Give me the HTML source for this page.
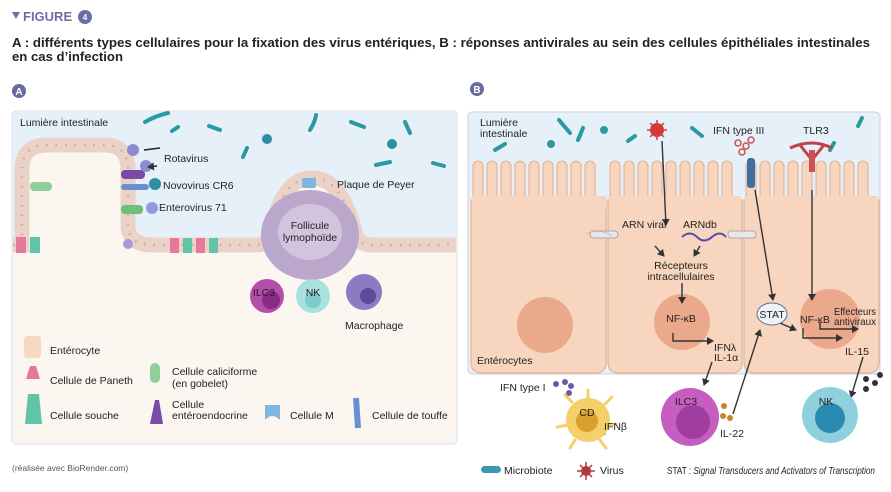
<!DOCTYPE html>
<html><head><meta charset="utf-8"><style>
html,body{margin:0;padding:0;background:#fff;}
svg{display:block;font-family:"Liberation Sans",Arial,sans-serif;}
.t{font-size:10.5px;fill:#222;}
</style></head><body>
<svg width="891" height="492" viewBox="0 0 891 492" xmlns="http://www.w3.org/2000/svg">
<defs>
<marker id="ar" markerWidth="8" markerHeight="8" refX="6" refY="4" orient="auto" markerUnits="userSpaceOnUse"><path d="M0,0 L7,4 L0,8 z" fill="#333"/></marker>
</defs>
<!-- header -->
<path d="M12,12 L20,12 L16,19 z" fill="#6b6fa6"/>
<text x="23" y="21" font-size="13" font-weight="bold" fill="#6b6fa6">FIGURE</text>
<circle cx="85" cy="17" r="7" fill="#6b6fa6"/><text x="85" y="20" font-size="8" fill="#fff" text-anchor="middle" font-weight="bold">4</text>
<text x="12" y="47" font-size="13" font-weight="bold" fill="#222" textLength="858" lengthAdjust="spacingAndGlyphs">A : différents types cellulaires pour la fixation des virus entériques, B : réponses antivirales au sein des cellules épithéliales intestinales</text>
<text x="12" y="61" font-size="13" font-weight="bold" fill="#222" textLength="111" lengthAdjust="spacingAndGlyphs">en cas d’infection</text>

<!-- Panel A -->
<circle cx="19" cy="91" r="7" fill="#6b6aa0"/><text x="19" y="95" font-size="10" fill="#fff" text-anchor="middle" font-weight="bold">A</text>
<rect x="12" y="111" width="445" height="333" rx="4" fill="#fcf6f1" stroke="#d8dde8"/>
<path d="M13,112 H456 V250 H13 z" fill="#e6f0f9"/>
<path d="M13,250 H22 V170 Q22,145 47,145 H105 Q128,145 128,170 V225 Q128,250 153,250 H255 Q268,250 271,235 Q282,178 312,178 Q342,178 355,235 Q358,250 372,250 H456 V443 H13 z" fill="#fcf6f1"/>
<path d="M13,245 H22 V170 Q22,145 47,145 H105 Q128,145 128,170 V225 Q128,245 153,245 H255 Q268,245 271,232 Q282,178 312,178 Q342,178 355,232 Q358,245 372,245 H456" fill="none" stroke="#ead3c6" stroke-width="15"/>
<path d="M13,245 H22 V170 Q22,145 47,145 H105 Q128,145 128,170 V225 Q128,245 153,245 H255 Q268,245 271,232 Q282,178 312,178 Q342,178 355,232 Q358,245 372,245 H456" fill="none" stroke="#c9a7a5" stroke-width="2.5" stroke-dasharray="1.5 8"/>
<rect x="16" y="237" width="10" height="16" fill="#e8789a"/><rect x="30" y="237" width="10" height="16" fill="#5fc4a8"/>
<rect x="170" y="238" width="9" height="15" fill="#e8789a"/><rect x="183" y="238" width="9" height="15" fill="#5fc4a8"/><rect x="196" y="238" width="9" height="15" fill="#e8789a"/><rect x="209" y="238" width="9" height="15" fill="#5fc4a8"/>
<rect x="30" y="182" width="22" height="9" rx="4" fill="#8fd09a"/>
<rect x="121" y="205" width="22" height="9" rx="4" fill="#6cc07a"/>
<rect x="121" y="170" width="24" height="9" rx="4" fill="#7a4aa8"/>
<rect x="121" y="184" width="28" height="6" rx="3" fill="#6a8fd0"/>
<rect x="302" y="178" width="14" height="10" rx="2" fill="#7fb5e0"/>
<circle cx="133" cy="150" r="6" fill="#8f8ad0"/><circle cx="146" cy="166" r="6" fill="#8f8ad0"/>
<circle cx="155" cy="184" r="6" fill="#2a8fa0"/><circle cx="152" cy="208" r="6" fill="#8f9ae0"/>
<circle cx="128" cy="244" r="5" fill="#a89ad8"/>
<path d="M160,148 L144,150 M157,166 L148,167" stroke="#222" stroke-width="1.5" marker-end="url(#ar)"/>
<g stroke="#2a9aa0" stroke-width="4" stroke-linecap="round" fill="none">
<path d="M145,122 Q155,116 168,113"/><path d="M172,131 L178,127"/><path d="M209,126 L220,130"/><path d="M243,157 L247,148"/><path d="M310,130 Q315,122 316,115"/><path d="M351,122 L364,127"/><path d="M405,122 L410,133"/><path d="M376,165 L390,162"/><path d="M433,163 L444,166"/>
</g>
<circle cx="267" cy="139" r="5" fill="#2a8fa0"/><circle cx="392" cy="144" r="5" fill="#2a8fa0"/>
<ellipse cx="310" cy="235" rx="49" ry="45" fill="#bba6cc"/><ellipse cx="310" cy="232" rx="32" ry="28" fill="#d2c3de"/>
<circle cx="267" cy="296" r="17" fill="#b24fa8"/><circle cx="271" cy="300" r="9" fill="#8a2a86"/>
<circle cx="313" cy="296" r="17" fill="#a9e0e0"/><circle cx="313" cy="300" r="8" fill="#7fcaca"/>
<circle cx="364" cy="292" r="18" fill="#8a7cc2"/><circle cx="368" cy="296" r="8" fill="#5d4a9a"/>
<text class="t" x="20" y="126">Lumière intestinale</text>
<text class="t" x="164" y="162">Rotavirus</text>
<text class="t" x="163" y="189">Novovirus CR6</text>
<text class="t" x="159" y="211">Enterovirus 71</text>
<text class="t" x="337" y="188">Plaque de Peyer</text>
<text class="t" x="310" y="229" text-anchor="middle">Follicule</text>
<text class="t" x="310" y="241" text-anchor="middle">lymophoïde</text>
<text class="t" x="264" y="296" text-anchor="middle">ILC3</text>
<text class="t" x="313" y="296" text-anchor="middle">NK</text>
<text class="t" x="345" y="329">Macrophage</text>
<rect x="24" y="336" width="17" height="22" rx="3" fill="#f7d9c0"/>
<path d="M26,379 L30,366 L36,366 L40,379 z" fill="#e8789a"/>
<path d="M25,424 L28,394 L39,394 L42,424 z" fill="#5fc4a8"/>
<rect x="150" y="363" width="10" height="20" rx="5" fill="#8fd09a"/>
<path d="M150,424 L155,400 L159,400 L163,424 z" fill="#7a4aa8"/>
<path d="M265,405 H280 V420 Q272,412 265,420 z" fill="#7fb5e0"/>
<path d="M356,398 L358,428" stroke="#6a8fd0" stroke-width="6"/>
<text class="t" x="50" y="354" font-size="10">Entérocyte</text>
<text class="t" x="50" y="384" font-size="10">Cellule de Paneth</text>
<text class="t" x="50" y="419" font-size="10">Cellule souche</text>
<text class="t" x="172" y="375" font-size="10">Cellule caliciforme</text>
<text class="t" x="172" y="387" font-size="10">(en gobelet)</text>
<text class="t" x="172" y="408" font-size="10">Cellule</text>
<text class="t" x="172" y="419" font-size="10">entéroendocrine</text>
<text class="t" x="290" y="419" font-size="10">Cellule M</text>
<text class="t" x="372" y="419" font-size="10">Cellule de touffe</text>
<text x="12" y="471" font-size="8.5" fill="#555">(réalisée avec BioRender.com)</text>

<!-- Panel B -->
<circle cx="477" cy="89" r="7" fill="#6b6aa0"/><text x="477" y="93" font-size="10" fill="#fff" text-anchor="middle" font-weight="bold">B</text>
<rect x="468" y="112" width="412" height="262" rx="4" fill="#e6f0f9" stroke="#c8d3e3"/>
<g fill="#f7d5bf" stroke="#e6b194" stroke-width="1.2">
<path d="M471,200 H606 V362 Q606,373 595,373 H482 Q471,373 471,362 z"/>
<path d="M608,200 H742 V362 Q742,373 731,373 H619 Q608,373 608,362 z"/>
<path d="M744,200 H879 V362 Q879,373 868,373 H755 Q744,373 744,362 z"/>
</g>
<g fill="#f7d5bf" stroke="#e6b194" stroke-width="1.1">
<rect x="473" y="161" width="10" height="48" rx="5"/><rect x="487" y="161" width="10" height="48" rx="5"/><rect x="501" y="161" width="10" height="48" rx="5"/><rect x="515" y="161" width="10" height="48" rx="5"/><rect x="529" y="161" width="10" height="48" rx="5"/><rect x="543" y="161" width="10" height="48" rx="5"/><rect x="557" y="161" width="10" height="48" rx="5"/><rect x="571" y="161" width="10" height="48" rx="5"/><rect x="585" y="161" width="10" height="48" rx="5"/>
<rect x="610" y="161" width="10" height="48" rx="5"/><rect x="624" y="161" width="10" height="48" rx="5"/><rect x="638" y="161" width="10" height="48" rx="5"/><rect x="652" y="161" width="10" height="48" rx="5"/><rect x="666" y="161" width="10" height="48" rx="5"/><rect x="680" y="161" width="10" height="48" rx="5"/><rect x="694" y="161" width="10" height="48" rx="5"/><rect x="708" y="161" width="10" height="48" rx="5"/><rect x="722" y="161" width="10" height="48" rx="5"/>
<rect x="746" y="161" width="10" height="48" rx="5"/><rect x="760" y="161" width="10" height="48" rx="5"/><rect x="774" y="161" width="10" height="48" rx="5"/><rect x="788" y="161" width="10" height="48" rx="5"/><rect x="802" y="161" width="10" height="48" rx="5"/><rect x="816" y="161" width="10" height="48" rx="5"/><rect x="830" y="161" width="10" height="48" rx="5"/><rect x="844" y="161" width="10" height="48" rx="5"/><rect x="858" y="161" width="10" height="48" rx="5"/>
</g>
<rect x="472" y="196" width="134" height="14" fill="#f7d5bf"/><rect x="609" y="196" width="132" height="14" fill="#f7d5bf"/><rect x="745" y="196" width="133" height="14" fill="#f7d5bf"/>
<rect x="590" y="231" width="28" height="7" rx="3.5" fill="#e8e8ec" stroke="#a8a8b0"/>
<rect x="728" y="231" width="28" height="7" rx="3.5" fill="#e8e8ec" stroke="#a8a8b0"/>
<circle cx="545" cy="325" r="28" fill="#eba98c"/>
<circle cx="682" cy="322" r="28" fill="#eba98c"/>
<circle cx="830" cy="319" r="30" fill="#eba98c"/>
<g stroke="#2a9aa0" stroke-width="4" stroke-linecap="round" fill="none">
<path d="M495,150 L505,144"/><path d="M559,120 L570,133"/><path d="M578,140 L583,128"/><path d="M628,141 L635,136"/><path d="M692,128 L702,136"/><path d="M830,150 L834,143"/><path d="M858,126 L862,118"/>
</g>
<circle cx="604" cy="130" r="4" fill="#2a9aa0"/><circle cx="551" cy="144" r="4" fill="#2a9aa0"/>
<circle cx="657" cy="130" r="7" fill="#d43a3a"/>
<g stroke="#d43a3a" stroke-width="1.5"><path d="M647,130 H667 M657,120 V140 M650,123 L664,137 M664,123 L650,137"/></g>
<g fill="none" stroke="#d05050" stroke-width="1.5"><circle cx="738" cy="143" r="3"/><circle cx="746" cy="146" r="3"/><circle cx="742" cy="152" r="3"/><circle cx="751" cy="140" r="3"/></g>
<rect x="747" y="158" width="8" height="30" rx="3" fill="#3e6fa0"/>
<path d="M790,148 Q812,138 832,148 M800,145 L812,160 L824,145" stroke="#c0404a" stroke-width="3" fill="none"/>
<rect x="809" y="150" width="6" height="22" fill="#d05058"/>
<path d="M586,234 Q600,228 612,236" stroke="#d8b8a0" fill="none"/>
<path d="M682,237 Q690,230 697,237 T712,237 T726,237" stroke="#5050a0" stroke-width="2" fill="none"/>
<g stroke="#333" stroke-width="1.4" fill="none" marker-end="url(#ar)">
<path d="M662,141 L666,225"/>
<path d="M655,246 L664,256"/><path d="M700,246 L694,256"/>
<path d="M682,283 L682,303"/>
<path d="M673,333 V341 H713"/>
<path d="M755,190 L773,300"/>
<path d="M812,190 L812,300"/>
<path d="M780,323 L796,330"/>
<path d="M803,328 V338 H842"/>
<path d="M820,322 V329 H858"/>
<path d="M712,362 L704,385"/>
<path d="M733,414 L760,330"/>
<path d="M863,357 L851,397"/>
<path d="M582,434 H605"/>
</g>
<ellipse cx="772" cy="314" rx="15" ry="11" fill="#eef3f8" stroke="#5b6f95"/>
<circle cx="588" cy="420" r="22" fill="#f5cf6a"/><circle cx="587" cy="421" r="11" fill="#d9a030"/>
<g stroke="#f5cf6a" stroke-width="3" stroke-linecap="round"><path d="M572,402 L565,395 M605,404 L612,397 M568,425 L557,427 M608,425 L616,424 M575,440 L570,448 M600,440 L606,448 M588,398 L588,390"/></g>
<g fill="#6b5aa8"><circle cx="556" cy="384" r="3"/><circle cx="565" cy="382" r="3"/><circle cx="571" cy="386" r="3"/><circle cx="569" cy="393" r="3"/></g>
<circle cx="690" cy="417" r="29" fill="#c55ec0"/><circle cx="693" cy="422" r="17" fill="#a03ea0"/>
<g fill="#c8862a"><circle cx="724" cy="406" r="3"/><circle cx="723" cy="416" r="3"/><circle cx="730" cy="418" r="3"/></g>
<circle cx="830" cy="415" r="28" fill="#8ed0dc"/><circle cx="830" cy="418" r="15" fill="#2a89ae"/>
<g fill="#333"><circle cx="866" cy="379" r="3"/><circle cx="875" cy="383" r="3"/><circle cx="866" cy="389" r="3"/><circle cx="880" cy="375" r="3"/></g>
<text class="t" x="480" y="126">Lumière</text>
<text class="t" x="480" y="137">intestinale</text>
<text class="t" x="713" y="134" font-size="10.5">IFN type III</text>
<text class="t" x="803" y="134">TLR3</text>
<text class="t" x="622" y="228" font-size="9">ARN viral</text>
<text class="t" x="683" y="228" font-size="9">ARNdb</text>
<text class="t" x="681" y="269" font-size="9.5" text-anchor="middle">Récepteurs</text>
<text class="t" x="681" y="280" font-size="9.5" text-anchor="middle">intracellulaires</text>
<text class="t" x="681" y="322" text-anchor="middle">NF-κB</text>
<text class="t" x="714" y="351" font-size="8.5">IFNλ</text>
<text class="t" x="714" y="361" font-size="8.5">IL-1α</text>
<text class="t" x="772" y="318" font-size="8.5" text-anchor="middle">STAT</text>
<text class="t" x="800" y="323" textLength="30" lengthAdjust="spacingAndGlyphs">NF-κB</text>
<text class="t" x="834" y="315" font-size="8.5" textLength="42" lengthAdjust="spacingAndGlyphs">Effecteurs</text>
<text class="t" x="834" y="325" font-size="8.5" textLength="42" lengthAdjust="spacingAndGlyphs">antiviraux</text>
<text class="t" x="845" y="355">IL-15</text>
<text class="t" x="477" y="364">Entérocytes</text>
<text class="t" x="500" y="391">IFN type I</text>
<text class="t" x="587" y="416" text-anchor="middle">CD</text>
<text class="t" x="604" y="430">IFNβ</text>
<text class="t" x="686" y="405" text-anchor="middle">ILC3</text>
<text class="t" x="720" y="437">IL-22</text>
<text class="t" x="826" y="405" text-anchor="middle">NK</text>
<rect x="481" y="466" width="20" height="7" rx="3.5" fill="#3a9ab0"/>
<text class="t" x="504" y="474" font-size="9.5">Microbiote</text>
<circle cx="586" cy="471" r="5" fill="#b03a3a"/>
<g stroke="#b03a3a" stroke-width="1.5"><path d="M577,471 H595 M586,462 V480 M580,465 L592,477 M592,465 L580,477"/></g>
<text class="t" x="600" y="474" font-size="9.5">Virus</text>
<text class="t" x="667" y="474" font-size="8.5" textLength="208" lengthAdjust="spacingAndGlyphs">STAT : <tspan font-style="italic">Signal Transducers and Activators of Transcription</tspan></text>
</svg>
</body></html>
